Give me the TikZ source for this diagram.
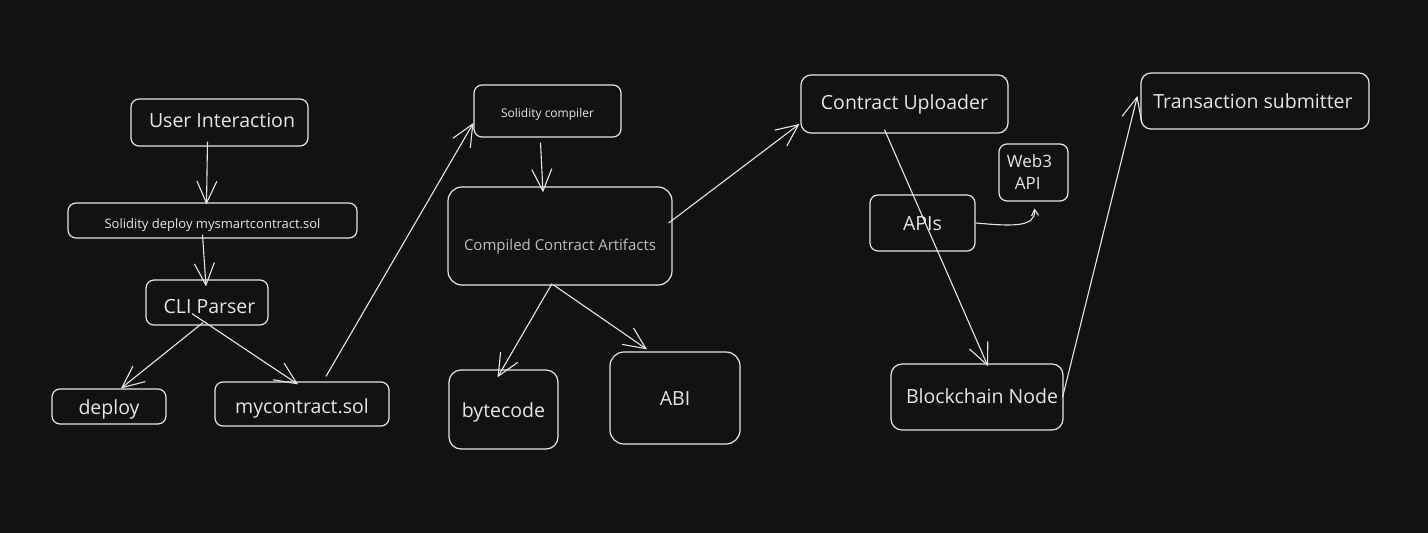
\documentclass[tikz,border=0pt]{standalone}
\usepackage{fontspec}
\setmainfont{Open Sans}
\usetikzlibrary{arrows.meta,calc}
\definecolor{bg}{HTML}{121212}
\definecolor{ink}{HTML}{E6E6E6}
\definecolor{dim}{HTML}{BDBDBD}
\tikzset{
  box/.style={draw=ink, line width=1.2pt, rounded corners=8pt, text=ink, inner sep=0pt, align=center, text depth=0pt},
  big/.style={font=\fontsize{19.5}{22}\selectfont},
  arr/.style={draw=ink, line width=1.1pt, -{Straight Barb[length=22pt,width=20pt,line width=1.1pt]}},
  sarr/.style={draw=ink, line width=1.1pt, -{Straight Barb[length=6pt,width=7pt,line width=1.1pt]}},
}
\begin{document}
\begin{tikzpicture}[x=1pt,y=-1pt]
\fill[bg] (0,0) rectangle (1428,533);
\useasboundingbox (0,0) rectangle (1428,533);
% nodes
\node[box, big, minimum width=177pt, minimum height=47pt, text height=9pt] (ui) at (219.5,122.5) {\hspace*{5pt}User Interaction};
\node[box, minimum width=289pt, minimum height=35pt, font=\fontsize{13}{15}\selectfont, text height=15.5pt] (sd) at (212.5,220.5) {Solidity deploy mysmartcontract.sol};
\node[box, big, minimum width=122pt, minimum height=45pt, text height=22pt] (cli) at (207,302.5) {\hspace*{5pt}CLI Parser};
\node[box, big, minimum width=114pt, minimum height=35pt, text height=15pt] (dep) at (109,406.5) {deploy};
\node[box, big, minimum width=174pt, minimum height=44pt, text height=18pt] (myc) at (302,404) {mycontract.sol};
\node[box, minimum width=147pt, minimum height=52pt, font=\fontsize{12}{14}\selectfont, text height=12.5pt] (sc) at (547.5,111) {Solidity compiler};
\node[box, minimum width=224pt, minimum height=98pt, rounded corners=14pt, text=dim, font=\fontsize{15}{17}\selectfont, text height=28pt] (cca) at (560,236) {Compiled Contract Artifacts};
\node[box, big, minimum width=109pt, minimum height=79pt, rounded corners=12pt, text height=15pt] (bc) at (503.5,409.5) {bytecode};
\node[box, big, minimum width=130pt, minimum height=92pt, rounded corners=14pt, text height=14pt] (abi) at (675,398) {ABI};
\node[box, big, minimum width=207pt, minimum height=58pt, rounded corners=10pt, text height=10pt] (cu) at (904.5,104) {Contract Uploader};
\node[box, minimum width=69pt, minimum height=57pt, font=\fontsize{17}{22}\selectfont, align=left] (w3) at (1033.5,172.5) {Web3\hspace*{8pt}\\\hspace*{8pt}API};
\node[box, big, minimum width=105pt, minimum height=56pt, text height=14pt] (apis) at (922.5,223) {APIs};
\node[box, big, minimum width=172pt, minimum height=66pt, rounded corners=11pt, text height=12pt] (bn) at (977,397) {\hspace*{10pt}Blockchain Node};
\node[box, big, minimum width=228pt, minimum height=56pt, rounded corners=10pt, text height=14pt] (ts) at (1255,101) {Transaction submitter\hspace*{4pt}};
% connectors
\draw[arr] ([xshift=-12pt,yshift=5pt]ui.south) -- ([xshift=-6pt,yshift=-2pt]sd.north);
\draw[arr] ([xshift=-10pt,yshift=4pt]sd.south) -- ([xshift=-1pt,yshift=-7pt]cli.north);
\draw[arr] ([xshift=-4pt,yshift=3pt]cli.south) -- ([xshift=12pt]dep.north);
\draw[arr] ([xshift=-15pt,yshift=12pt]cli.south) -- ([xshift=-4pt,yshift=-3pt]myc.north);
\draw[arr] ([xshift=24pt,yshift=5pt]myc.north) -- ([yshift=-12pt]sc.west);
\draw[arr] ([xshift=-7pt,yshift=-5pt]sc.south) -- ([xshift=-17pt,yshift=-6pt]cca.north);
\draw[arr] ([xshift=-8pt,yshift=2pt]cca.south) -- ([xshift=-6pt,yshift=-8pt]bc.north);
\draw[arr] ([xshift=-7pt,yshift=1pt]cca.south) -- ([xshift=-28pt,yshift=2pt]abi.north);
\draw[arr] ([xshift=-4pt,yshift=13pt]cca.east) -- ([xshift=-1pt,yshift=-20pt]cu.west);
\draw[arr] ([xshift=-20pt,yshift=4pt]cu.south) -- ([xshift=11pt,yshift=-3pt]bn.north);
\draw[sarr] (apis.east) .. controls (1010,226) and (1036,228) .. ([xshift=1pt,yshift=-7pt]w3.south);
\draw[arr] ([xshift=-1pt]bn.east) -- ([xshift=-3pt,yshift=5pt]ts.west);
\end{tikzpicture}
\end{document}
